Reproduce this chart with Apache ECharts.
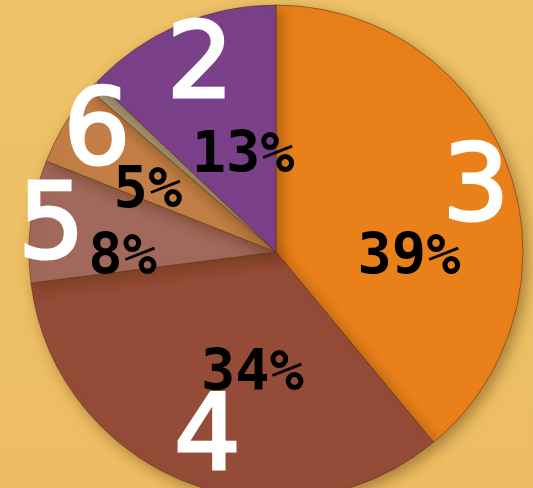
<!DOCTYPE html>
<html>
<head>
<meta charset="utf-8">
<script src="https://cdn.jsdelivr.net/npm/echarts@6/dist/echarts.min.js"></script>
<style>
html,body{margin:0;padding:0;}
#c{width:533px;height:488px;background:linear-gradient(180deg,#EEC268 0%,#ECBD62 100%);}
</style>
</head>
<body>
<div id="c"></div>
<script>
// Data (clockwise from 12 o'clock)
const categories = ['3', '4', '5', '6', '', '2'];
const values = [39, 34, 8, 5.4, 0.7, 12.9];

// styles
const colors = ['#E9801A', '#944B37', '#A0695C', '#C27E45', '#A89A78', '#7A4089'];
const pctOffsets = [[14, 50], [23, 6], [-28, 23], [-20, 6], [0, 0], [17, 21]];
const nameOffsets = [[81, -16], [-22, 72], [-99, -5], [-71, -50], [0, 0], [-26, -66]];

const chart = echarts.init(document.getElementById('c'), null, {renderer: 'canvas'});

const pieData = categories.map((c, i) => ({
  name: c,
  value: values[i],
  itemStyle: {color: colors[i]},
  label: {show: i !== 4}
}));
const nameData = categories.map((c, i) => ({
  name: c,
  value: values[i],
  label: {show: i !== 4}
}));

chart.setOption({
  animation: false,
  series: [
    {
      type: 'pie',
      center: [276, 252],
      radius: [0, 247],
      startAngle: 90,
      clockwise: true,
      percentPrecision: 0,
      silent: true,
      itemStyle: {
        borderColor: 'rgba(90,50,20,0.55)',
        borderWidth: 1,
        shadowColor: 'rgba(90,55,10,0.45)',
        shadowBlur: 14,
        shadowOffsetX: 4,
        shadowOffsetY: 5
      },
      label: {
        position: 'inside',
        formatter: '{d}%',
        color: '#000',
        fontFamily: 'DejaVu Sans Mono',
        fontWeight: 'bold',
        fontSize: 57
      },
      labelLine: {show: false},
      labelLayout: function (p) {
        const o = pctOffsets[p.dataIndex];
        return {dx: o[0], dy: o[1]};
      },
      data: pieData
    },
    {
      type: 'pie',
      center: [276, 252],
      radius: [0, 247],
      startAngle: 90,
      clockwise: true,
      silent: true,
      itemStyle: {color: 'rgba(0,0,0,0)', borderWidth: 0},
      label: {
        position: 'inside',
        formatter: '{b}',
        color: '#fff',
        fontFamily: 'DejaVu Sans',
        fontSize: 105,
        textBorderColor: '#fff',
        textBorderWidth: 3
      },
      labelLine: {show: false},
      labelLayout: function (p) {
        const o = nameOffsets[p.dataIndex];
        return {dx: o[0], dy: o[1]};
      },
      data: nameData
    }
  ]
});
</script>
</body>
</html>
